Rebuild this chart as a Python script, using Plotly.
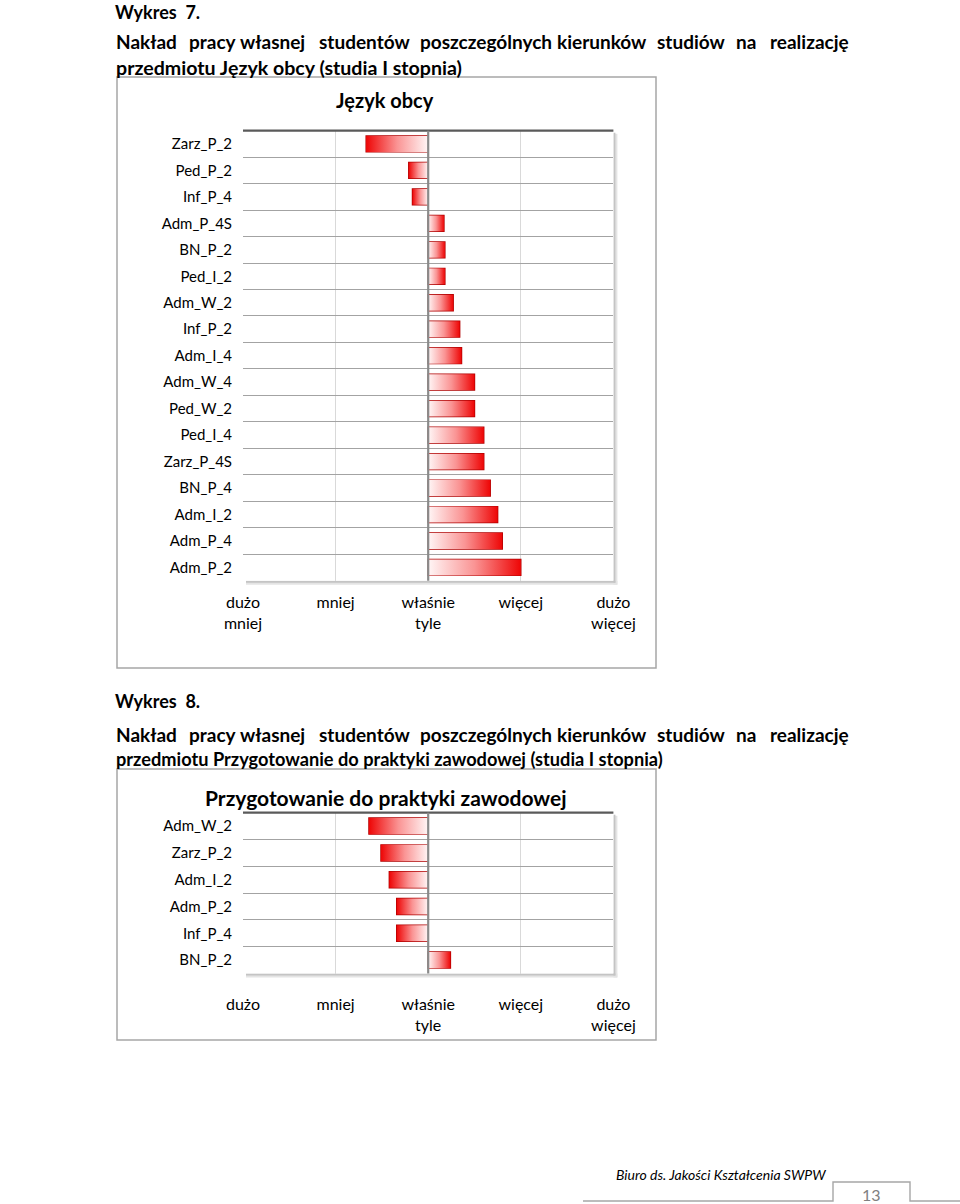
import plotly.graph_objects as go

W, H = 960, 1204
FONT = "Lato"

# ---------------- data ----------------
cats1 = ["Zarz_P_2", "Ped_P_2", "Inf_P_4", "Adm_P_4S", "BN_P_2", "Ped_I_2", "Adm_W_2",
         "Inf_P_2", "Adm_I_4", "Adm_W_4", "Ped_W_2", "Ped_I_4", "Zarz_P_4S", "BN_P_4",
         "Adm_I_2", "Adm_P_4", "Adm_P_2"]
vals1 = [2.33, 2.79, 2.83, 3.17, 3.18, 3.18, 3.27, 3.34, 3.36, 3.50, 3.50, 3.60, 3.60,
         3.67, 3.75, 3.80, 4.00]

cats2 = ["Adm_W_2", "Zarz_P_2", "Adm_I_2", "Adm_P_2", "Inf_P_4", "BN_P_2"]
vals2 = [2.36, 2.49, 2.58, 2.66, 2.66, 3.24]

scale_vals = [1, 2, 3, 4, 5]
scale_text1 = ["dużo<br>mniej", "mniej", "właśnie<br>tyle", "więcej", "dużo<br>więcej"]
scale_text2 = ["dużo", "mniej", "właśnie<br>tyle", "więcej", "dużo<br>więcej"]
NEUTRAL = 3

title1 = "Język obcy"
title2 = "Przygotowanie do praktyki zawodowej"
heading_words = ["Nakład", "pracy", "własnej", "studentów", "poszczególnych",
                 "kierunków", "studiów", "na", "realizację"]
heading2_1 = "przedmiotu Język obcy (studia I stopnia)"
heading2_2 = "przedmiotu Przygotowanie do praktyki zawodowej (studia I stopnia)"
footer = "Biuro ds. Jakości Kształcenia SWPW"
page_no = "13"

# ---------------- style ----------------
BAR_W = 0.6
CS_POS = [[0, "#fff6f6"], [0.5, "#fa9494"], [1, "#ee0606"]]
CS_NEG = [[0, "#ee0606"], [0.5, "#fa9494"], [1, "#fff6f6"]]
EDGE = "#b00000"


def X(px):
    return px / W


def Y(py):
    return 1 - py / H


fig = go.Figure()
shapes = []
annotations = []

charts = [
    dict(cats=cats1, vals=vals1, ticks=scale_text1, title=title1, tsize=20,
         plot=(243, 130.7, 613.4, 580.7), outer=(117, 77, 656, 668),
         tpos=(385, 100), ticklen=7, ax="x", ay="y"),
    dict(cats=cats2, vals=vals2, ticks=scale_text2, title=title2, tsize=21,
         plot=(243, 812.7, 613.4, 973.5), outer=(117, 769, 656, 1040),
         tpos=(386, 797), ticklen=16, ax="x2", ay="y2"),
]

layout_axes = {}
for c in charts:
    x0, y0, x1, y1 = c["plot"]
    n = len(c["cats"])
    ax, ay = c["ax"], c["ay"]
    xname = "xaxis" if ax == "x" else "xaxis" + ax[1:]
    yname = "yaxis" if ay == "y" else "yaxis" + ay[1:]

    # outer box
    ox0, oy0, ox1, oy1 = c["outer"]
    shapes.append(dict(type="rect", xref="paper", yref="paper", x0=X(ox0), x1=X(ox1),
                       y0=Y(oy1), y1=Y(oy0), line=dict(color="#a6a6a6", width=1.5),
                       fillcolor="white", layer="below"))
    # shadow of plot area
    shapes.append(dict(type="rect", xref="paper", yref="paper", x0=X(x1), x1=X(x1 + 4),
                       y0=Y(y1 + 4), y1=Y(y0 + 3), line=dict(width=0),
                       fillcolor="#e4e4e4", layer="below"))
    shapes.append(dict(type="rect", xref="paper", yref="paper", x0=X(x0 + 3), x1=X(x1 + 4),
                       y0=Y(y1 + 4), y1=Y(y1), line=dict(width=0),
                       fillcolor="#e4e4e4", layer="below"))
    shapes.append(dict(type="rect", xref="paper", yref="paper", x0=X(x1), x1=X(x1 + 2),
                       y0=Y(y1 + 2), y1=Y(y0 + 2), line=dict(width=0),
                       fillcolor="#c4c4c4", layer="below"))
    shapes.append(dict(type="rect", xref="paper", yref="paper", x0=X(x0 + 3), x1=X(x1 + 2),
                       y0=Y(y1 + 2), y1=Y(y1), line=dict(width=0),
                       fillcolor="#c4c4c4", layer="below"))
    shapes.append(dict(type="rect", xref="paper", yref="paper", x0=X(x0), x1=X(x1),
                       y0=Y(y1), y1=Y(y0), line=dict(width=0),
                       fillcolor="white", layer="below"))

    # gradient fills
    for i, v in enumerate(c["vals"]):
        fig.add_trace(go.Scatter(
            x=[NEUTRAL, v, v, NEUTRAL, NEUTRAL],
            y=[i - BAR_W / 2, i - BAR_W / 2, i + BAR_W / 2, i + BAR_W / 2, i - BAR_W / 2],
            mode="none", fill="toself",
            fillgradient=dict(type="horizontal", colorscale=CS_POS if v >= NEUTRAL else CS_NEG),
            hoverinfo="skip", showlegend=False, xaxis=ax, yaxis=ay))
    # bar outlines
    fig.add_trace(go.Bar(
        orientation="h", y=list(range(n)), x=[v - NEUTRAL for v in c["vals"]], base=NEUTRAL,
        width=BAR_W, marker=dict(color="rgba(0,0,0,0)", line=dict(color=EDGE, width=1.4)),
        showlegend=False, hoverinfo="skip", xaxis=ax, yaxis=ay))

    # top axis line
    shapes.append(dict(type="line", xref=ax + " domain", yref=ay + " domain", x0=0, x1=1,
                       y0=1, y1=1, line=dict(color="#5a5a5a", width=2.3), layer="above"))
    # neutral line
    shapes.append(dict(type="line", xref=ax, yref=ay + " domain", x0=NEUTRAL, x1=NEUTRAL,
                       y0=0, y1=1, line=dict(color="#8a8a8a", width=2.2), layer="above"))

    layout_axes[xname] = dict(
        domain=[X(x0), X(x1)], range=[scale_vals[0], scale_vals[-1]], anchor=ay,
        automargin=False,
        tickvals=scale_vals, ticktext=c["ticks"], showgrid=False, zeroline=False,
        showline=False, ticks="outside", ticklen=c["ticklen"], tickcolor="rgba(0,0,0,0)",
        tickfont=dict(family=FONT, size=16, color="#000"), fixedrange=True,
        minor=dict(tickvals=[2, 4], showgrid=True,
                   gridcolor="#d9d9d9", gridwidth=1, ticks=""))
    layout_axes[yname] = dict(
        domain=[Y(y1), Y(y0)], range=[n - 0.5, -0.5], anchor=ax,
        automargin=False,
        tickvals=list(range(n)), ticktext=c["cats"], showgrid=False, zeroline=False,
        showline=False, ticks="outside", ticklen=7, tickcolor="rgba(0,0,0,0)",
        tickfont=dict(family=FONT, size=15, color="#000"), fixedrange=True,
        minor=dict(tickvals=[i + 0.5 for i in range(n - 1)], showgrid=True,
                   gridcolor="#a3a3a3", gridwidth=1.3, ticks=""))

    annotations.append(dict(text="<b>" + c["title"] + "</b>", x=X(c["tpos"][0]),
                            y=Y(c["tpos"][1]), xref="paper", yref="paper",
                            xanchor="center", yanchor="middle", showarrow=False,
                            font=dict(family=FONT, size=c["tsize"], color="#000")))


def txt(s, px, py, size=19, bold=True, anchor="left", color="#000", italic=False):
    t = s
    if bold:
        t = "<b>" + t + "</b>"
    if italic:
        t = "<i>" + t + "</i>"
    annotations.append(dict(text=t, x=X(px), y=Y(py), xref="paper", yref="paper",
                            xanchor=anchor, yanchor="middle", showarrow=False,
                            borderpad=0, font=dict(family=FONT, size=size, color=color)))


word_x = [114.8, 188, 239, 318, 419, 556, 656, 735, 768.7]

txt("Wykres  7.", 114, 12, size=18)
for w, wx in zip(heading_words, word_x):
    txt(w, wx, 42)
txt(heading2_1, 114.8, 67, size=19.6)

txt("Wykres  8.", 114, 701, size=18)
for w, wx in zip(heading_words, word_x):
    txt(w, wx, 734)
txt(heading2_2, 114.8, 759, size=18.2)

txt(footer, 615, 1174, size=14, bold=False, italic=True)
txt(page_no, 871, 1194, size=16, bold=False, anchor="center", color="#808080")

shapes.append(dict(type="path", xref="paper", yref="paper",
                   path=f"M {X(583)},{Y(1201)} L {X(833)},{Y(1201)} L {X(833)},{Y(1182)} "
                        f"L {X(910)},{Y(1182)} L {X(910)},{Y(1201)} L {X(960)},{Y(1201)}",
                   line=dict(color="#a6a6a6", width=1.4)))

fig.update_layout(
    width=W, height=H, autosize=False,
    margin=dict(l=0, r=0, t=0, b=0, pad=0, autoexpand=False),
    paper_bgcolor="white", plot_bgcolor="rgba(0,0,0,0)",
    showlegend=False, barmode="overlay",
    shapes=shapes, annotations=annotations,
    font=dict(family=FONT, color="#000"),
    **layout_axes,
)

fig.write_html("out.html")
